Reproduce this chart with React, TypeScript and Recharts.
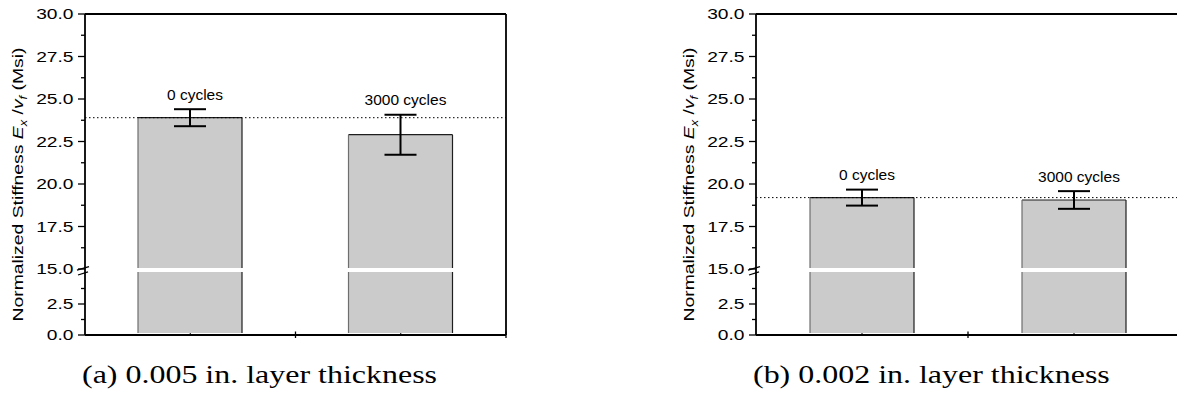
import React from "react";
import { BarChart, Bar, XAxis, YAxis, ErrorBar, ReferenceLine } from "recharts";

// ---- data ----
const cycleLabels = ["0 cycles", "3000 cycles"];
const stiffnessThick = [23.9, 22.9];
const errorThick = [0.5, 1.18];
const stiffnessThin = [19.2, 19.06];
const errorThin = [0.47, 0.52];
const majorTicks = [0, 2.5, 15, 17.5, 20, 22.5, 25, 27.5, 30];
const minorTicks = [1.25, 3.75, 16.25, 18.75, 21.25, 23.75, 26.25, 28.75];
const panelCaptions = ["(a) 0.005 in. layer thickness", "(b) 0.002 in. layer thickness"];
const yTitle = { prefix: "Normalized Stiffness ", e: "E", eSub: "x", slash: " /", v: "v", vSub: "f", unit: " (Msi)" };

// ---- broken axis transform ----
const BREAK_LOW = 5;
const BREAK_HIGH = 15;
const Y_MAX = 30;
const LOWER_RATIO = 0.7294;
const GAP = 0.235;

const toDisplay = (v: number) =>
  v >= BREAK_HIGH ? v : BREAK_HIGH - GAP - (BREAK_LOW - v) * LOWER_RATIO;
const fromDisplay = (d: number) =>
  d >= BREAK_HIGH - 1e-9 ? d : BREAK_LOW - (BREAK_HIGH - GAP - d) / LOWER_RATIO;
const D_MIN = toDisplay(0);
const yTicks = [...majorTicks, ...minorTicks].map(toDisplay);

const SANS = "'Liberation Sans', Arial, Helvetica, sans-serif";
const SERIF = "'Liberation Serif', 'Times New Roman', serif";

const YTick = (props: any) => {
  const { x, y, payload } = props;
  const real = fromDisplay(payload.value);
  const major = majorTicks.some((m) => Math.abs(m - real) < 1e-6);
  const isBreak = Math.abs(real - BREAK_HIGH) < 1e-6;
  return (
    <g>
      <line x1={x - (major ? 7 : 4)} x2={x} y1={y} y2={y} stroke="#000" strokeWidth={1.3} />
      {major && (
        <text
          transform={`translate(${x - 11.5},${y + 5.3}) scale(1.28,1)`}
          textAnchor="end"
          fontFamily={SANS}
          fontSize={15}
          fill="#000"
        >
          {real.toFixed(1)}
        </text>
      )}
      {isBreak && (
        <g>
          <line x1={x - 8} y1={y + 1.2} x2={x + 4} y2={y - 2.3} stroke="#000" strokeWidth={1.3} />
          <line x1={x - 7} y1={y + 6} x2={x + 3} y2={y + 2.8} stroke="#000" strokeWidth={1.3} />
        </g>
      )}
    </g>
  );
};

const XTick = (props: any) => {
  const { x, y, payload } = props;
  const v = payload.value;
  if (v === 0) return <g />;
  if (Number.isInteger(v))
    return <line x1={x} x2={x} y1={y - 3.5} y2={y + 3} stroke="#000" strokeWidth={1.3} />;
  return <line x1={x} x2={x} y1={y - 2} y2={y} stroke="#000" strokeWidth={1} />;
};

const BarShape = (props: any) => {
  const { x, y, width, height, payload } = props;
  if (!height) return <g />;
  const bottom = y + height;
  const ppu = height / (payload.disp - D_MIN);
  const pix = (d: number) => bottom - (d - D_MIN) * ppu;
  const upperBottom = pix(BREAK_HIGH) - 1;
  const lowerTop = pix(toDisplay(BREAK_LOW)) - 1;
  const lowerBottom = bottom - 2;
  const labelY = pix(toDisplay(payload.value + payload.err)) - 9.5;
  const fill = "#cbcbcb";
  const edge = "#1e1e1e";
  const leftEdge = "#6e6e6e";
  return (
    <g>
      <rect x={x} y={y} width={width} height={upperBottom - y} fill={fill} />
      <rect x={x} y={lowerTop} width={width} height={lowerBottom - lowerTop} fill={fill} />
      <line x1={x} x2={x + width} y1={y} y2={y} stroke={edge} strokeWidth={1.2} />
      <line x1={x} x2={x} y1={y} y2={upperBottom} stroke={leftEdge} strokeWidth={1.2} />
      <line x1={x + width} x2={x + width} y1={y} y2={upperBottom} stroke={edge} strokeWidth={1.2} />
      <line x1={x} x2={x} y1={lowerTop} y2={lowerBottom} stroke={leftEdge} strokeWidth={1.2} />
      <line x1={x + width} x2={x + width} y1={lowerTop} y2={lowerBottom} stroke={edge} strokeWidth={1.2} />
      <text
        x={x + width / 2 + 5}
        y={labelY}
        textAnchor="middle"
        fontFamily={SANS}
        fontSize={15.5}
        fill="#000"
      >
        {payload.name}
      </text>
    </g>
  );
};

const YTitle = (props: any) => {
  const vb = props.viewBox || { x: 0, y: 14, width: 85, height: 321 };
  const cx = vb.x + 23;
  const cy = vb.y + vb.height / 2 + 10;
  return (
    <text
      transform={`translate(${cx},${cy}) rotate(-90) scale(1.29,1)`}
      textAnchor="middle"
      fontFamily={SANS}
      fontSize={15}
      fill="#000"
    >
      <tspan>{yTitle.prefix}</tspan>
      <tspan fontStyle="italic">{yTitle.e}</tspan>
      <tspan fontStyle="italic" fontSize={10} dy={4}>{yTitle.eSub}</tspan>
      <tspan dy={-4}>{yTitle.slash}</tspan>
      <tspan fontStyle="italic">{yTitle.v}</tspan>
      <tspan fontStyle="italic" fontSize={10} dy={4}>{yTitle.vSub}</tspan>
      <tspan dy={-4}>{yTitle.unit}</tspan>
    </text>
  );
};

const Caption = (props: any) => {
  const vb = props.viewBox || { x: 85, y: 335 };
  return (
    <text
      transform={`translate(${vb.x - 3},${vb.y + 48}) scale(1.23,1)`}
      fontFamily={SERIF}
      fontSize={26}
      fill="#000"
    >
      {props.text}
    </text>
  );
};

function Panel({ values, errors, caption, plotWidth }: any) {
  const data = cycleLabels.map((name, i) => ({
    name,
    pos: i + 0.5,
    value: values[i],
    err: errors[i],
    disp: toDisplay(values[i]),
  }));
  const axisStyle = { stroke: "#000", strokeWidth: 1.8 };
  return (
    <BarChart
      width={85 + plotWidth + 14}
      height={394}
      data={data}
      margin={{ top: 14, right: 14, bottom: 49, left: 0 }}
    >
      <XAxis
        dataKey="pos"
        type="number"
        domain={[0, 2]}
        ticks={[0, 0.5, 1, 1.5, 2]}
        interval={0}
        tick={(p: any) => <XTick {...p} />}
        tickLine={false}
        tickSize={0}
        tickMargin={0}
        height={10}
        axisLine={axisStyle}
        label={{ content: (p: any) => <Caption {...p} text={caption} /> }}
      />
      <YAxis
        type="number"
        domain={[D_MIN, Y_MAX]}
        ticks={yTicks}
        interval={0}
        tick={(p: any) => <YTick {...p} />}
        tickLine={false}
        tickSize={0}
        tickMargin={0}
        width={85}
        axisLine={axisStyle}
        label={{ content: (p: any) => <YTitle {...p} /> }}
      />
      <ReferenceLine y={Y_MAX} stroke="#000" strokeWidth={1.8} />
      <ReferenceLine x={2} stroke="#000" strokeWidth={1.8} />
      <ReferenceLine
        y={toDisplay(values[0])}
        stroke="#000"
        strokeWidth={1}
        strokeDasharray="1.5 2.5"
      />
      <Bar dataKey="disp" barSize={104} shape={(p: any) => <BarShape {...p} />} isAnimationActive={false}>
        <ErrorBar
          dataKey="err"
          direction="y"
          width={16}
          stroke="#000"
          strokeWidth={2}
          isAnimationActive={false}
        />
      </Bar>
    </BarChart>
  );
}

export default function App() {
  return (
    <div
      style={{
        position: "absolute",
        left: 0,
        top: 0,
        width: 1177,
        height: 394,
        overflow: "hidden",
        background: "#fff",
      }}
    >
      <div style={{ position: "absolute", left: 0, top: 0 }}>
        <Panel values={stiffnessThick} errors={errorThick} caption={panelCaptions[0]} plotWidth={421} />
      </div>
      <div style={{ position: "absolute", left: 671, top: 0 }}>
        <Panel values={stiffnessThin} errors={errorThin} caption={panelCaptions[1]} plotWidth={424} />
      </div>
    </div>
  );
}
